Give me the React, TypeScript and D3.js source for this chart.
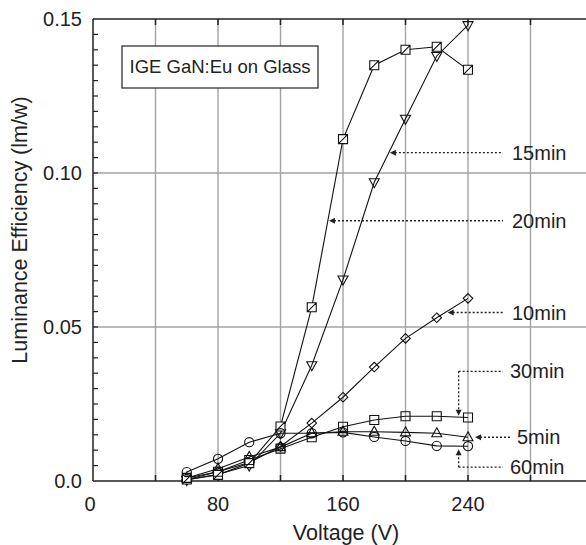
import React from "react";
import * as d3 from "d3";

// Applied voltage (V)
const voltages = [60, 80, 100, 120, 140, 160, 180, 200, 220, 240];

// Luminance efficiency (lm/W) per annealing time
const eff5min = [0.001, 0.004, 0.0078, 0.011, 0.0155, 0.016, 0.016, 0.0158, 0.0155, 0.0142];
const eff10min = [0.0005, 0.003, 0.006, 0.0112, 0.0188, 0.0272, 0.037, 0.0463, 0.053, 0.0593];
const eff15min = [0.0003, 0.0022, 0.005, 0.0155, 0.0376, 0.0654, 0.097, 0.1176, 0.138, 0.148];
const eff20min = [0.0005, 0.002, 0.0058, 0.0177, 0.0564, 0.111, 0.135, 0.14, 0.141, 0.1335];
const eff30min = [0.001, 0.003, 0.0068, 0.0105, 0.0142, 0.0176, 0.0198, 0.021, 0.021, 0.0206];
const eff60min = [0.0029, 0.0072, 0.0126, 0.0155, 0.0155, 0.0158, 0.0143, 0.013, 0.0114, 0.0113];

const xTickLabels = [0, 80, 160, 240];
const yTickLabels = [0, 0.05, 0.1, 0.15];

type MarkerKind = "triUp" | "triDown" | "diamond" | "squareSlash" | "square" | "circle";

const seriesList: { name: string; values: number[]; marker: MarkerKind }[] = [
  { name: "5min", values: eff5min, marker: "triUp" },
  { name: "10min", values: eff10min, marker: "diamond" },
  { name: "15min", values: eff15min, marker: "triDown" },
  { name: "20min", values: eff20min, marker: "squareSlash" },
  { name: "30min", values: eff30min, marker: "square" },
  { name: "60min", values: eff60min, marker: "circle" },
];

// Callouts: arrow tip in data units, label row height, optional elbow
const callouts = [
  { label: "15min", tipV: 190, tipE: 0.1066, rowE: 0.1066, elbowV: null as number | null },
  { label: "20min", tipV: 151, tipE: 0.0845, rowE: 0.0845, elbowV: null },
  { label: "10min", tipV: 227, tipE: 0.0547, rowE: 0.0547, elbowV: null },
  { label: "5min", tipV: 244.5, tipE: 0.0142, rowE: 0.0142, elbowV: null },
  { label: "30min", tipV: 234, tipE: 0.0212, rowE: 0.0356, elbowV: 234 },
  { label: "60min", tipV: 234, tipE: 0.0103, rowE: 0.0045, elbowV: 234 },
];

const W = 586;
const H = 545;
const FONT = "'Liberation Sans', Arial, Helvetica, sans-serif";

const x = d3.scaleLinear().domain([0, 320]).range([93, 593]);
const y = d3.scaleLinear().domain([0, 0.15]).range([481, 19]);

function markerPath(kind: MarkerKind, cx: number, cy: number): string {
  const p = d3.path();
  if (kind === "triUp") {
    p.moveTo(cx, cy - 5.5);
    p.lineTo(cx + 5, cy + 3.5);
    p.lineTo(cx - 5, cy + 3.5);
    p.closePath();
  } else if (kind === "triDown") {
    p.moveTo(cx, cy + 5.5);
    p.lineTo(cx + 5, cy - 3.5);
    p.lineTo(cx - 5, cy - 3.5);
    p.closePath();
  } else if (kind === "diamond") {
    p.moveTo(cx, cy - 4.8);
    p.lineTo(cx + 4.8, cy);
    p.lineTo(cx, cy + 4.8);
    p.lineTo(cx - 4.8, cy);
    p.closePath();
  } else if (kind === "square" || kind === "squareSlash") {
    p.rect(cx - 4.5, cy - 4.5, 9, 9);
    if (kind === "squareSlash") {
      p.moveTo(cx - 4.5, cy + 4.5);
      p.lineTo(cx + 4.5, cy - 4.5);
    }
  } else {
    p.moveTo(cx + 4.6, cy);
    p.arc(cx, cy, 4.6, 0, Math.PI * 2);
  }
  return p.toString();
}

export default function App() {
  const line = d3
    .line<number>()
    .x((_, i) => x(voltages[i]))
    .y((d) => y(d));

  const gridX = d3.range(40, 321, 40);
  const gridY = [0.05, 0.1];
  const minorY = d3.range(0.005, 0.1499, 0.005);
  const x0 = x(0);
  const yBottom = y(0);
  const yTop = y(0.15);

  const arrowHead = (tx: number, ty: number, dir: "left" | "up" | "down") => {
    const p = d3.path();
    if (dir === "left") {
      p.moveTo(tx, ty);
      p.lineTo(tx + 6, ty - 3);
      p.lineTo(tx + 6, ty + 3);
    } else if (dir === "down") {
      p.moveTo(tx, ty);
      p.lineTo(tx - 3, ty - 6);
      p.lineTo(tx + 3, ty - 6);
    } else {
      p.moveTo(tx, ty);
      p.lineTo(tx - 3, ty + 6);
      p.lineTo(tx + 3, ty + 6);
    }
    p.closePath();
    return p.toString();
  };

  const lineEndX = 503;
  const labelX = 510;

  return (
    <svg
      width={W}
      height={H}
      style={{ position: "absolute", left: 0, top: 0, background: "#fff" }}
      fontFamily={FONT}
    >
      <rect width={W} height={H} fill="#fff" />

      {/* grid */}
      {gridX.map((v) => (
        <line key={"gx" + v} x1={x(v)} x2={x(v)} y1={yTop} y2={yBottom} stroke="#a3a3a3" strokeWidth={1.4} />
      ))}
      {gridY.map((v) => (
        <line key={"gy" + v} x1={x0} x2={W} y1={y(v)} y2={y(v)} stroke="#a3a3a3" strokeWidth={1.4} />
      ))}

      {/* frame */}
      <line x1={x0} x2={x0} y1={yTop} y2={yBottom} stroke="#222" strokeWidth={1.5} />
      <line x1={x0} x2={W} y1={yBottom} y2={yBottom} stroke="#222" strokeWidth={1.5} />
      <line x1={x0} x2={W} y1={yTop} y2={yTop} stroke="#222" strokeWidth={1.5} />

      {/* ticks */}
      {gridX.map((v) => (
        <g key={"tx" + v}>
          <line x1={x(v)} x2={x(v)} y1={yBottom} y2={yBottom - 6} stroke="#222" strokeWidth={1.5} />
          <line x1={x(v)} x2={x(v)} y1={yTop} y2={yTop + 6} stroke="#222" strokeWidth={1.5} />
        </g>
      ))}
      {minorY.map((v) => (
        <line key={"ty" + v} x1={x0} x2={x0 + 5} y1={y(v)} y2={y(v)} stroke="#222" strokeWidth={1.2} />
      ))}

      {/* tick labels */}
      {xTickLabels.map((v) => (
        <text key={"lx" + v} x={x(v) - (v === 0 ? 3 : 0)} y={511} textAnchor="middle" fontSize={20} fill="#222">
          {v}
        </text>
      ))}
      {yTickLabels.map((v) => (
        <text key={"ly" + v} x={82} y={y(v)} dy="0.35em" textAnchor="end" fontSize={20} fill="#222">
          {v === 0 ? "0.0" : v.toFixed(2)}
        </text>
      ))}

      {/* axis titles */}
      <text x={346} y={540} textAnchor="middle" fontSize={21.5} fill="#222">
        Voltage (V)
      </text>
      <text
        transform="translate(27,230) rotate(-90)"
        textAnchor="middle"
        fontSize={21.5}
        fill="#222"
      >
        Luminance Efficiency (lm/w)
      </text>

      {/* caption box */}
      <rect x={122} y={46} width={196} height={42} fill="#fff" stroke="#222" strokeWidth={1.2} />
      <text x={220} y={67} dy="0.35em" textAnchor="middle" fontSize={18.5} fill="#222">
        IGE GaN:Eu on Glass
      </text>

      {/* series lines */}
      {seriesList.map((s) => (
        <path key={"l" + s.name} d={line(s.values) ?? ""} fill="none" stroke="#111" strokeWidth={1.1} />
      ))}

      {/* markers */}
      {seriesList.map((s) =>
        s.values.map((v, i) => (
          <path
            key={"m" + s.name + i}
            d={markerPath(s.marker, x(voltages[i]), y(v))}
            fill={s.marker === "squareSlash" ? "#fff" : "none"}
            stroke="#111"
            strokeWidth={1.1}
          />
        ))
      )}

      {/* callouts */}
      {callouts.map((c) => {
        const tx = x(c.tipV);
        const ty = y(c.tipE);
        const ry = y(c.rowE);
        if (c.elbowV === null) {
          const endX = c.label === "5min" ? 512 : lineEndX;
          return (
            <g key={"c" + c.label}>
              <line x1={tx + 5} x2={endX} y1={ty} y2={ty} stroke="#222" strokeWidth={1.3} strokeDasharray="2,2" />
              <path d={arrowHead(tx, ty, "left")} fill="#222" />
              <text x={c.label === "5min" ? 517 : 512} y={ty} dy="0.35em" fontSize={20} fill="#222">
                {c.label}
              </text>
            </g>
          );
        }
        const ex = x(c.elbowV);
        const down = ty > ry;
        return (
          <g key={"c" + c.label}>
            <line x1={ex} x2={lineEndX} y1={ry} y2={ry} stroke="#222" strokeWidth={1.3} strokeDasharray="2,2" />
            <line
              x1={ex}
              x2={ex}
              y1={ry}
              y2={down ? ty - 5 : ty + 5}
              stroke="#222"
              strokeWidth={1.3}
              strokeDasharray="2,2"
            />
            <path d={arrowHead(ex, ty, down ? "down" : "up")} fill="#222" />
            <text x={labelX} y={ry} dy="0.35em" fontSize={20} fill="#222">
              {c.label}
            </text>
          </g>
        );
      })}
    </svg>
  );
}
